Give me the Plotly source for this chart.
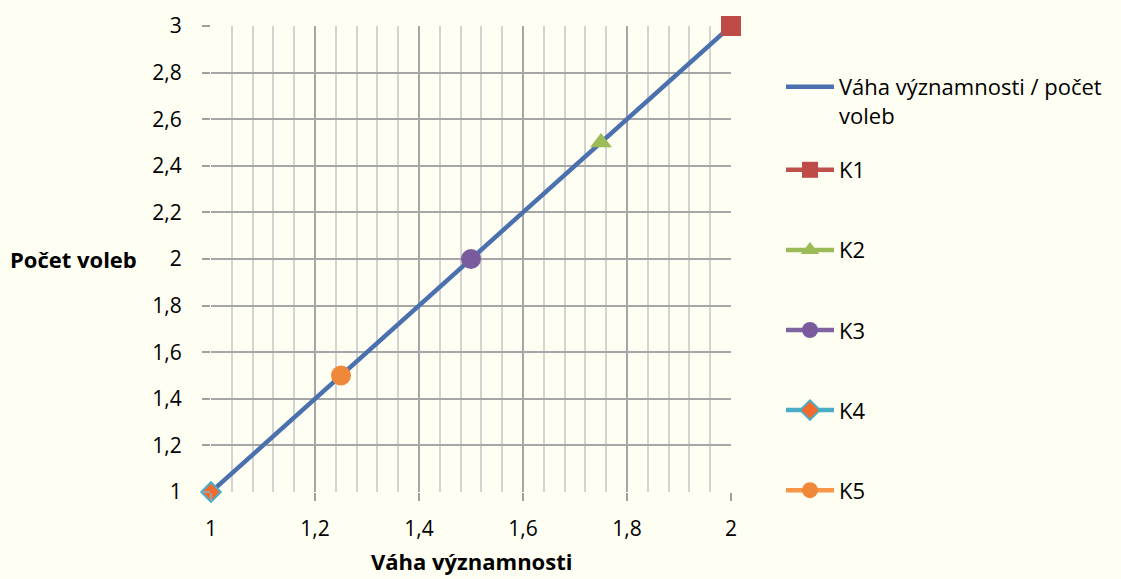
import plotly.graph_objects as go

# ---- data ----
line_name = "Váha významnosti / počet<br>voleb"
line_x = [1, 2]
line_y = [1, 3]

k_names = ["K1", "K2", "K3", "K4", "K5"]
k_x = [2, 1.75, 1.5, 1, 1.25]
k_y = [3, 2.5, 2, 1, 1.5]

x_ticks = [1, 1.2, 1.4, 1.6, 1.8, 2]
y_ticks = [1, 1.2, 1.4, 1.6, 1.8, 2, 2.2, 2.4, 2.6, 2.8, 3]

x_title = "Váha významnosti"
y_title = "Počet voleb"

# ---- styles ----
FONT = "Open Sans"
FS = 22
TFS = 21
BG = "#FEFEF2"
k_line_colors = ["#C0504D", "#9BBB59", "#8064A2", "#4BACC6", "#F79646"]
k_fill_colors = ["#BE4B48", "#9BBB59", "#7A5C9E", "#F26A2E", "#F0883A"]
k_outline = ["#BE4B48", "#9BBB59", "#7A5C9E", "#4BACC6", "#F0883A"]
k_symbols = ["square", "triangle-up", "circle", "diamond", "circle"]
k_sizes = [20, 19, 20, 15, 20]

fig = go.Figure()

fig.add_trace(go.Scatter(
    x=line_x, y=line_y, mode="lines", name=line_name, showlegend=True,
    line=dict(color="#4A70AD", width=4.5), legend="legend",
))

for i, n in enumerate(k_names):
    fig.add_trace(go.Scatter(
        x=[k_x[i]], y=[k_y[i]], mode="lines+markers", name=n, showlegend=True,
        legendgroup=n, legend="legend2",
        line=dict(color=k_line_colors[i], width=4.5),
        marker=dict(symbol=k_symbols[i], size=k_sizes[i], color=k_fill_colors[i],
                    line=dict(color=k_outline[i], width=2 if i == 3 else 0)),
        cliponaxis=False,
    ))

axis_common = dict(
    showline=False, zeroline=False,
    ticks="outside", ticklen=8, tickcolor="#A0A0A0", tickwidth=1.5,
    tickfont=dict(family=FONT, size=TFS, color="#000000"),
    gridcolor="#A6A6A6", gridwidth=1.5,
)

fig.update_layout(
    width=1121, height=579,
    paper_bgcolor=BG, plot_bgcolor=BG,
    separators=", ",
    showlegend=True,
    margin=dict(l=211, r=390, t=26, b=87),
    font=dict(family=FONT, size=FS, color="#000000"),
    xaxis=dict(range=[1, 2], tickvals=x_ticks, ticklabelstandoff=10,
               minor=dict(dtick=0.04, tick0=1, showgrid=True, gridcolor="#D3D3CF", gridwidth=1.5, ticks=""),
               **axis_common),
    yaxis=dict(range=[1, 3], tickvals=y_ticks, ticklabelstandoff=16, **axis_common),
    legend=dict(x=(781 - 211) / 520, xanchor="left", y=1.0 - (66 - 26) / 466, yanchor="top",
                bgcolor="rgba(0,0,0,0)", valign="top",
                font=dict(family=FONT, size=FS), itemwidth=48),
    legend2=dict(x=(781 - 211) / 520, xanchor="left", y=1.0 - (149 - 26) / 466, yanchor="top",
                 bgcolor="rgba(0,0,0,0)", tracegroupgap=48.5,
                 font=dict(family=FONT, size=FS), itemwidth=48),
    annotations=[
        dict(text="<b>" + y_title + "</b>", x=-(211 - 139) / 520, xref="paper", xanchor="right",
             y=2, yref="y", yanchor="middle", showarrow=False,
             font=dict(family=FONT, size=FS)),
        dict(text="<b>" + x_title + "</b>", x=1.5, xref="x", xanchor="center",
             y=-(578 - 492) / 466, yref="paper", yanchor="bottom", showarrow=False,
             font=dict(family=FONT, size=FS)),
    ],
)

fig.write_html("out.html", config={"displayModeBar": False},
               post_script="document.body.style.margin='0px';")
